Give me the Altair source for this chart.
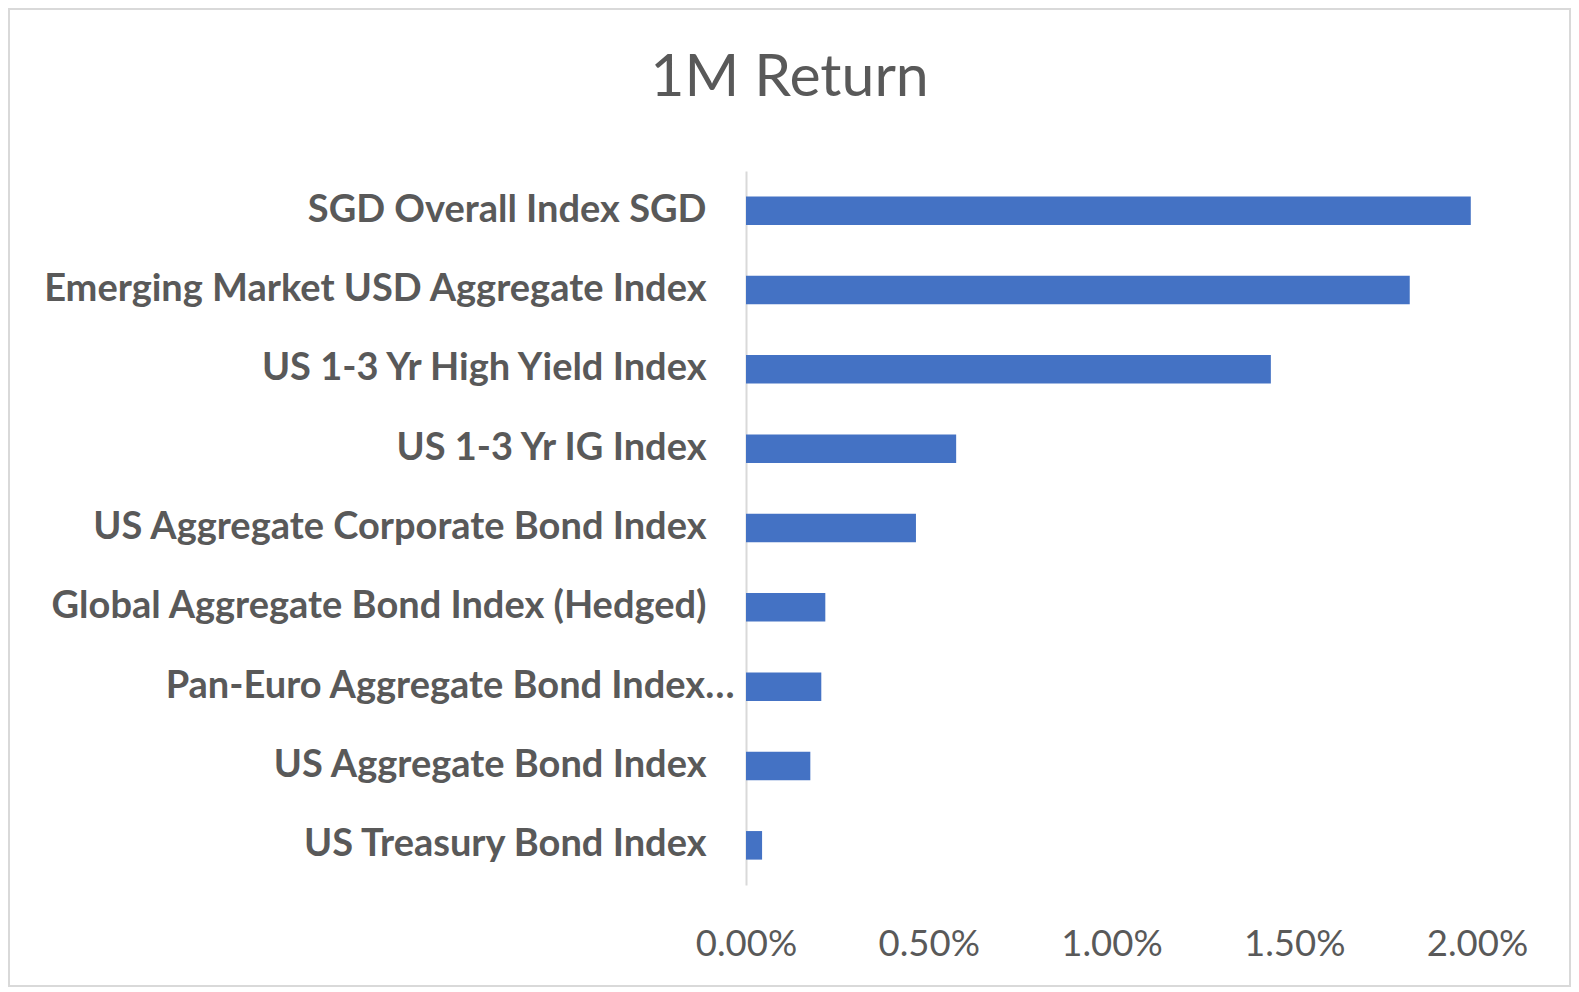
import altair as alt
import pandas as pd

categories = [
    "SGD Overall Index SGD",
    "Emerging Market USD Aggregate Index ",
    "US 1-3 Yr High Yield Index",
    "US 1-3 Yr IG Index",
    "US Aggregate Corporate Bond Index",
    "Global Aggregate Bond Index (Hedged)",
    "Pan-Euro Aggregate Bond Index…",
    "US Aggregate Bond Index",
    "US Treasury Bond Index",
]
returns_1m = [0.01983, 0.01816, 0.01436, 0.00575, 0.00465, 0.00217, 0.00206, 0.00176, 0.00044]
tick_values = [0.0, 0.005, 0.01, 0.015, 0.02]

df = pd.DataFrame({"index": categories, "ret": returns_1m})

TEXT = "#595959"
GRID = "#D9D9D9"
FONT = "Lato"

bars = alt.Chart(df).mark_bar(color="#4472C4").encode(
    x=alt.X(
        "ret:Q",
        scale=alt.Scale(domain=[0, 0.02], nice=False, zero=True),
        axis=alt.Axis(
            values=tick_values,
            format=".2%",
            title=None,
            domain=False,
            ticks=False,
            grid=False,
            labelFlush=False,
            labelFont=FONT,
            labelFontSize=36.5,
            labelColor=TEXT,
            labelBaseline="alphabetic",
            labelPadding=70,
        ),
    ),
    y=alt.Y(
        "index:N",
        sort=categories,
        scale=alt.Scale(paddingInner=0.64, paddingOuter=0.32),
        axis=alt.Axis(
            title=None,
            ticks=False,
            domain=True,
            domainColor=GRID,
            domainWidth=2,
            labelFont=FONT,
            labelFontSize=38,
            labelFontWeight="bold",
            labelColor=TEXT,
            labelPadding={
                "condition": {"test": "indexof(datum.value, 'Pan-Euro') == 0", "value": 12},
                "value": 40,
            },
            labelLimit=1000,
        ),
    ),
)

frame = alt.Chart(pd.DataFrame({"a": [0]})).mark_rect(
    fill=None, stroke=GRID, strokeWidth=2
).encode(
    x=alt.value(-737), x2=alt.value(824), y=alt.value(-162), y2=alt.value(815)
)

chart = alt.layer(frame, bars).properties(
    width=731,
    height=714,
    autosize=alt.AutoSizeParams(type="none"),
    padding={"left": 738, "top": 163, "right": 94, "bottom": 102},
    title=alt.TitleParams(
        "1M Return",
        font=FONT,
        fontSize=59,
        fontWeight="normal",
        color=TEXT,
        anchor="middle",
        frame="group",
        dx=-322,
        baseline="alphabetic",
        offset=-147,
    ),
).configure_view(stroke=None)

chart.save("out.html", embed_options={"renderer": "svg", "actions": False})
